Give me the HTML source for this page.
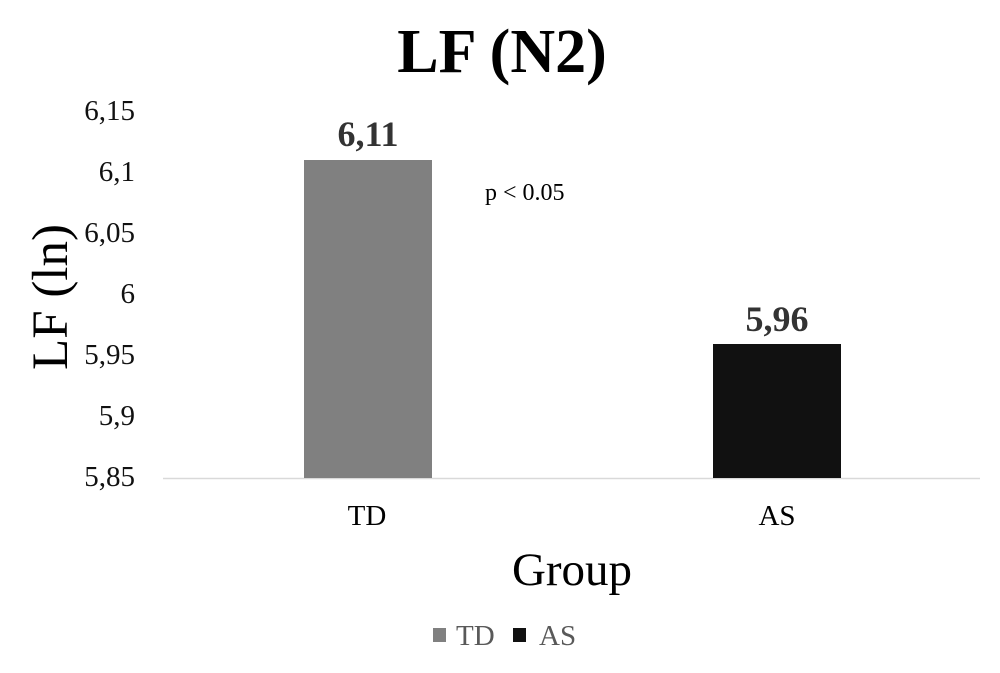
<!DOCTYPE html>
<html><head><style>body{margin:0;background:#fff}</style></head><body>
<svg width="1000" height="668" xmlns="http://www.w3.org/2000/svg" font-family="'Liberation Serif', serif">
<rect width="1000" height="668" fill="#fff"/>
<text x="502" y="72" font-size="62" font-weight="bold" text-anchor="middle">LF (N2)</text>
<g font-size="29" text-anchor="end" fill="#111">
<text x="135" y="120">6,15</text>
<text x="135" y="181">6,1</text>
<text x="135" y="242">6,05</text>
<text x="135" y="303">6</text>
<text x="135" y="364">5,95</text>
<text x="135" y="425">5,9</text>
<text x="135" y="486">5,85</text>
</g>
<text transform="translate(67,297) rotate(-90)" font-size="51" text-anchor="middle">LF (ln)</text>
<line x1="163" y1="478.5" x2="980" y2="478.5" stroke="#d9d9d9" stroke-width="1.5"/>
<rect x="304" y="160" width="128" height="318" fill="#808080"/>
<rect x="713" y="344" width="128" height="134" fill="#111"/>
<text x="368" y="146" font-size="36" font-weight="bold" text-anchor="middle" fill="#333">6,11</text>
<text x="777" y="331" font-size="36" font-weight="bold" text-anchor="middle" fill="#333">5,96</text>
<text x="485" y="200" font-size="24">p &lt; 0.05</text>
<text x="367" y="525" font-size="29" text-anchor="middle">TD</text>
<text x="777" y="525" font-size="29" text-anchor="middle">AS</text>
<text x="572" y="585" font-size="47" text-anchor="middle">Group</text>
<rect x="433" y="628" width="13" height="14" fill="#808080"/>
<text x="456" y="645" font-size="29" fill="#595959">TD</text>
<rect x="513" y="628" width="13" height="14" fill="#111"/>
<text x="539" y="645" font-size="29" fill="#595959">AS</text>
</svg>
</body></html>
